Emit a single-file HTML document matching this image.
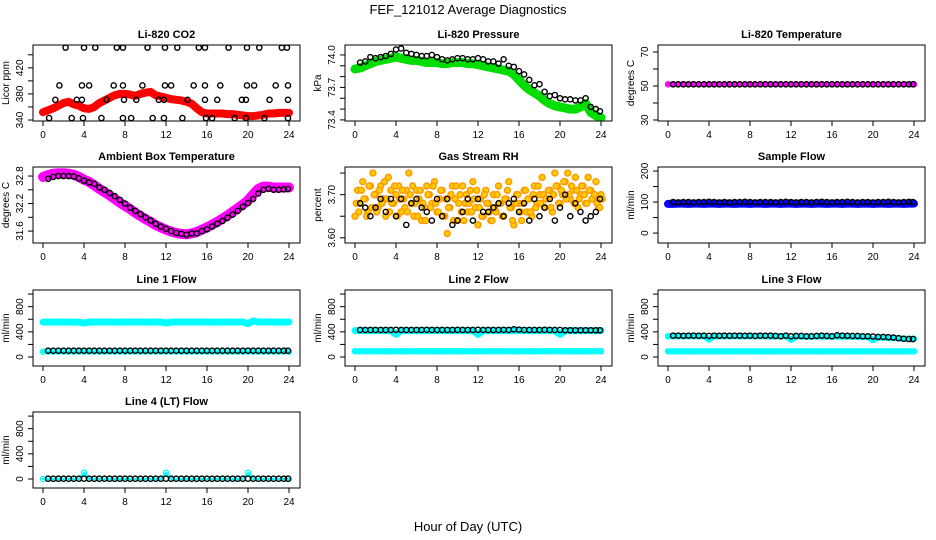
<!DOCTYPE html>
<html><head><meta charset="utf-8"><style>
html,body{margin:0;padding:0;background:#fff;}
svg{display:block;font-family:"Liberation Sans",sans-serif;}
</style></head><body>
<svg id="chart" width="936" height="540" viewBox="0 0 936 540">
<text x="468" y="14" text-anchor="middle" font-size="13">FEF_121012  Average Diagnostics</text>
<text x="468" y="531" text-anchor="middle" font-size="13">Hour of Day (UTC)</text>
</svg>
<script>
// ---------- data ----------
const bandHours=[0,0.5,1,1.5,2,2.5,3,3.5,4,4.5,5,5.5,6,6.5,7,7.5,8,8.5,9,9.5,10,10.5,11,11.5,12,12.5,13,13.5,14,14.5,15,15.5,16,16.5,17,17.5,18,18.5,19,19.5,20,20.5,21,21.5,22,22.5,23,23.5,24];
const blkHours=[0.5,1,1.5,2,2.5,3,3.5,4,4.5,5,5.5,6,6.5,7,7.5,8,8.5,9,9.5,10,10.5,11,11.5,12,12.5,13,13.5,14,14.5,15,15.5,16,16.5,17,17.5,18,18.5,19,19.5,20,20.5,21,21.5,22,22.5,23,23.5,23.9];

const co2Band=[352,355,358,362,366,368,364,362,358,357,360,366,370,374,378,380,380,379,377,380,382,383,378,376,374,372,371,370,368,365,358,352,350,350,350,350,349,349,348,347,346,346,347,348,350,350,351,351,351];
const co2Hours=[2.2,4,5.1,7.2,7.8,10.2,11.9,13.1,15.2,15.8,18.1,19.9,21.1,23.3,23.8,1.6,3.8,4.5,6.9,7.8,9.7,11.9,12.5,14.7,15.8,17.3,19.9,20.6,22.7,23.9,1.2,3.3,3.8,6.2,7.9,9.1,11.3,11.8,14.1,15.8,17.0,19.4,19.8,22.1,23.9,0.6,2.8,3.9,5.7,7.8,8.6,10.7,11.8,13.6,15.9,16.5,18.7,19.8,21.6,23.9];
const co2Vals=[451,451,451,451,451,451,451,451,451,451,451,451,451,451,451,393,393,393,393,393,393,393,393,393,393,393,393,393,393,393,371,371,371,371,371,371,371,371,371,371,371,371,371,371,371,343,343,343,343,343,343,343,343,343,343,343,343,343,343,343];

const presBand=[73.87,73.88,73.9,73.92,73.94,73.95,73.96,73.97,73.98,73.97,73.96,73.95,73.95,73.94,73.93,73.93,73.93,73.92,73.92,73.93,73.93,73.93,73.92,73.92,73.91,73.9,73.89,73.88,73.87,73.86,73.85,73.82,73.77,73.72,73.68,73.65,73.62,73.58,73.55,73.53,73.52,73.51,73.5,73.5,73.52,73.55,73.47,73.44,73.42];
const presBlk=[73.93,73.94,73.98,73.97,73.98,73.99,74.01,74.05,74.06,74.02,74.01,74.0,73.99,73.99,74.0,73.98,73.96,73.95,73.96,73.97,73.97,73.96,73.96,73.97,73.96,73.94,73.94,73.92,73.96,73.9,73.89,73.85,73.82,73.77,73.72,73.73,73.66,73.62,73.63,73.6,73.59,73.59,73.58,73.58,73.6,73.52,73.5,73.48];

const tempBand=[51,51,51,51,51,51,51,51,51,51,51,51,51,51,51,51,51,51,51,51,51,51,51,51,51,51,51,51,51,51,51,51,51,51,51,51,51,51,51,51,51,51,51,51,51,51,51,51,51];
const tempBlk=[51,51,51,51,51,51,51,51,51,51,51,51,51,51,51,51,51,51,51,51,51,51,51,51,51,51,51,51,51,51,51,51,51,51,51,51,51,51,51,51,51,51,51,51,51,51,51,51];

const ambBand=[32.78,32.82,32.85,32.86,32.86,32.85,32.83,32.78,32.72,32.67,32.6,32.52,32.45,32.38,32.3,32.22,32.15,32.08,32.0,31.93,31.86,31.8,31.73,31.68,31.63,31.59,31.56,31.54,31.53,31.55,31.58,31.63,31.68,31.74,31.8,31.87,31.94,32.02,32.1,32.18,32.27,32.4,32.52,32.57,32.57,32.55,32.55,32.55,32.55];
const ambBlk=[32.74,32.78,32.8,32.8,32.8,32.79,32.75,32.7,32.66,32.63,32.55,32.5,32.43,32.36,32.28,32.2,32.11,32.04,31.97,31.9,31.83,31.76,31.7,31.65,31.6,31.56,31.54,31.52,31.55,31.55,31.6,31.64,31.7,31.76,31.82,31.89,31.96,32.04,32.13,32.21,32.3,32.42,32.5,32.52,32.5,32.5,32.51,32.52];

const rhO=[3.65,3.71,3.68,3.73,3.69,3.66,3.72,3.75,3.70,3.67,3.72,3.69,3.65,3.74,3.71,3.68,3.70,3.72,3.66,3.69,3.71,3.75,3.68,3.65,3.71,3.69,3.64,3.67,3.72,3.70,3.68,3.73,3.66,3.69,3.71,3.65,3.61,3.67,3.72,3.69,3.64,3.70,3.72,3.68,3.66,3.71,3.73,3.67,3.63,3.69,3.65,3.71,3.68,3.64,3.70,3.66,3.72,3.68,3.65,3.69,3.73,3.67,3.63,3.70,3.68,3.64,3.71,3.66,3.69,3.65,3.72,3.68,3.70,3.74,3.67,3.69,3.71,3.66,3.75,3.72,3.68,3.70,3.73,3.75,3.69,3.71,3.74,3.67,3.70,3.72,3.68,3.74,3.71,3.69,3.73,3.67,3.70];
const rhO2=[3.68,3.66,3.71,3.69,3.65,3.72,3.67,3.70,3.66,3.71,3.68,3.73,3.69,3.66,3.68,3.72,3.65,3.69,3.71,3.67,3.66,3.70,3.72,3.68,3.65,3.71,3.68,3.64,3.70,3.67,3.72,3.68,3.66,3.71,3.65,3.69,3.67,3.70,3.64,3.72,3.68,3.66,3.64,3.70,3.68,3.66,3.69,3.71,3.67,3.65,3.70,3.68,3.66,3.64,3.67,3.70,3.68,3.65,3.69,3.71,3.67,3.64,3.68,3.70,3.66,3.68,3.71,3.69,3.66,3.70,3.67,3.72,3.68,3.70,3.69,3.71,3.67,3.70,3.72,3.68,3.71,3.73,3.69,3.70,3.72,3.68,3.71,3.69,3.72,3.70,3.68,3.71,3.69,3.70,3.68,3.67,3.69];
const rhBlk=[3.68,3.67,3.65,3.67,3.69,3.66,3.69,3.65,3.69,3.63,3.68,3.69,3.67,3.66,3.64,3.69,3.65,3.69,3.63,3.64,3.66,3.69,3.64,3.69,3.66,3.66,3.67,3.68,3.65,3.68,3.69,3.66,3.68,3.64,3.69,3.65,3.67,3.69,3.64,3.67,3.70,3.65,3.68,3.66,3.64,3.65,3.66,3.69];

const sfBand=[94,94,95,95,94,95,95,94,95,95,94,95,95,94,95,95,94,95,95,94,95,95,94,95,95,94,95,95,94,95,95,94,95,95,94,95,95,94,95,95,94,95,95,94,95,95,94,95,95];
const sfBlk=[100,99,100,100,99,100,100,101,100,99,100,99,100,100,101,100,99,100,100,100,99,100,101,100,99,100,100,99,100,101,100,99,100,100,101,100,99,100,100,99,100,100,101,100,99,100,101,100];

const l1High=[555,555,556,556,557,556,555,555,540,555,556,556,557,556,555,556,556,557,556,556,555,556,556,557,540,556,556,556,557,556,556,557,556,555,556,557,556,555,556,556,530,575,556,556,557,556,555,556,556];
const l1Low=[85,86,85,86,85,85,86,85,86,85,86,85,85,86,85,86,85,86,85,85,86,85,86,85,86,85,86,85,85,86,85,86,85,86,85,85,86,85,86,85,86,85,86,85,85,86,85,86,85];
const l1Blk=[100,100,100,100,100,100,100,100,100,100,100,100,100,100,100,100,100,100,100,100,100,100,100,100,100,100,100,100,100,100,100,100,100,100,100,100,100,100,100,100,100,100,100,100,100,100,100,100];

const l2High=[420,420,421,420,420,421,420,420,360,420,421,420,420,421,420,420,421,420,420,421,420,420,421,420,360,420,421,420,420,421,420,420,421,420,420,421,420,420,421,420,360,420,421,420,420,421,420,420,421];
const l2Low=[92,92,92,92,92,92,92,92,92,92,92,92,92,92,92,92,92,92,92,92,92,92,92,92,92,92,92,92,92,92,92,92,92,92,92,92,92,92,92,92,92,92,92,92,92,92,92,92,92];
const l2Blk=[430,430,430,430,430,430,430,432,430,430,430,430,430,432,430,430,430,430,430,432,430,430,430,432,430,430,430,430,432,430,440,435,430,430,430,430,432,430,430,430,425,425,425,425,425,425,425,425];

const l3High=[330,330,330,331,330,330,330,330,280,330,331,330,330,330,330,331,330,330,330,330,325,330,331,330,275,325,325,325,324,325,325,324,325,325,324,325,322,320,318,316,270,310,305,300,300,295,290,290,290];
const l3Low=[90,90,90,90,90,90,90,90,90,90,90,90,90,90,90,90,90,90,90,90,90,90,90,90,90,90,90,90,90,90,90,90,90,90,90,90,90,90,90,90,90,90,90,90,90,90,90,90,90];
const l3Blk=[340,340,338,340,340,338,340,335,340,338,340,338,340,340,338,340,335,340,338,340,335,330,340,330,335,335,330,330,335,340,335,330,345,340,338,335,335,330,330,325,320,320,315,310,300,290,285,285];

const l4Band=[0,0,0,0,0,0,0,0,100,0,0,0,0,0,0,0,0,0,0,0,0,0,0,0,100,0,0,0,0,0,0,0,0,0,0,0,0,0,0,0,100,0,0,0,0,0,0,0,0];
const l4Blk=[5,5,5,5,5,5,5,5,5,5,5,5,5,5,5,5,5,5,5,5,5,5,5,5,5,5,5,5,5,5,5,5,5,5,5,5,5,5,5,5,5,5,5,5,5,5,5,5];

const xTicks=[0,4,8,12,16,20,24];

// ---------- layout ----------
const NS='http://www.w3.org/2000/svg';
const svg=document.getElementById('chart');
const colL=[33,345,658], rowT=[45,167,290,412], PW=267, PH=76;
function mk(tag,attrs,parent){const e=document.createElementNS(NS,tag);for(const k in attrs)e.setAttribute(k,attrs[k]);(parent||svg).appendChild(e);return e;}

function makePanel(c,r,title,ylab,lo,hi,ticks,labels,key){
  const L=colL[c],T=rowT[r];
  const g=mk('g',{});
  
  
  const xs=h=>L+10+h*246/24;
  const ys=v=>T+PH-(v-lo)/(hi-lo)*PH;
  const t=mk('text',{x:L+PW/2,y:T-7,'text-anchor':'middle','font-size':11,'font-weight':'bold'},g);
  t.textContent=title;
  
  
  const xa=mk('g',{},g);
  
  
  mk('line',{x1:xs(0),x2:xs(24),y1:T+PH,y2:T+PH,stroke:'#000'},xa);
  xTicks.forEach(v=>{
    mk('line',{x1:xs(v),x2:xs(v),y1:T+PH,y2:T+PH+5,stroke:'#000'},xa);
    const tl=mk('text',{x:xs(v),y:T+PH+17,'text-anchor':'middle','font-size':10},xa);
    tl.textContent=v;
    
    
  });
  const ya=mk('g',{},g);
  
  
  mk('line',{x1:L,x2:L,y1:ys(ticks[0]),y2:ys(ticks[ticks.length-1]),stroke:'#000'},ya);
  ticks.forEach(v=>mk('line',{x1:L-5,x2:L,y1:ys(v),y2:ys(v),stroke:'#000'},ya));
  labels.forEach(v=>{
    const y=ys(v);
    const tl=mk('text',{x:L-10,y:y,'text-anchor':'middle','font-size':10,transform:`rotate(-90 ${L-10} ${y})`},ya);
    tl.textContent=v;
    
    
  });
  const yl=mk('text',{x:L-24,y:T+PH/2,'text-anchor':'middle','font-size':10,transform:`rotate(-90 ${L-24} ${T+PH/2})`},g);
  yl.textContent=ylab;
  
  
  const cp=mk('clipPath',{id:'cp'+key},g);
  mk('rect',{x:L,y:T,width:PW,height:PH},cp);
  const pg=mk('g',{'clip-path':`url(#cp${key})`},g);
  const box=mk('rect',{x:L,y:T,width:PW,height:PH,fill:'none',stroke:'#000'},g);
  
  
  return {xs,ys,pg};
}
function band(p,hours,vals,color,w,name){
  const s=mk('g',{},p.pg);
  
  
  const pts=hours.map((h,i)=>p.xs(h)+','+p.ys(vals[i])).join(' ');
  mk('polyline',{points:pts,fill:'none',stroke:color,'stroke-width':w,'stroke-linejoin':'round','stroke-linecap':'round'},s);
  hours.forEach((h,i)=>mk('circle',{cx:p.xs(h),cy:p.ys(vals[i]),r:2.6,fill:'none',stroke:color,'stroke-width':1.3},s));
}
function pts(p,hours,vals,color,name,fill,r){
  const s=mk('g',{},p.pg);
  
  
  hours.forEach((h,i)=>mk('circle',{cx:p.xs(h),cy:p.ys(vals[i]),r:r||2.6,fill:fill||'none',stroke:color,'stroke-width':1.4},s));
}
const q=n=>n.map((_,i)=>i*0.25);

let p;
p=makePanel(0,0,'Li-820 CO2','Licor ppm',338.5,455,[340,360,380,400,420,440],[340,380,420],'co2');
band(p,bandHours,co2Band,'#ff0000',8,'co2-series');
pts(p,co2Hours,co2Vals,'#000','co2-avg-points');

p=makePanel(1,0,'Li-820 Pressure','kPa',73.39,74.092,[73.4,73.5,73.6,73.7,73.8,73.9,74.0],['73.4','73.7','74.0'],'pressure');
band(p,bandHours,presBand,'#00dd00',9,'pressure-series');
pts(p,blkHours,presBlk,'#000','pressure-avg-points');

p=makePanel(2,0,'Li-820 Temperature','degrees C',29.4,74.1,[30,40,50,60,70],[30,50,70],'temperature');
band(p,bandHours,tempBand,'#ff00ff',4,'temperature-series');
pts(p,blkHours,tempBlk,'#000','temperature-avg-points');

p=makePanel(0,1,'Ambient Box Temperature','degrees C',31.34,32.997,[31.6,31.9,32.2,32.5,32.8],['31.6','32.2','32.8'],'ambient');
band(p,bandHours,ambBand,'#ff00ff',10,'ambient-series');
pts(p,blkHours,ambBlk,'#000','ambient-avg-points');

p=makePanel(1,1,'Gas Stream RH','percent',3.588,3.764,[3.60,3.65,3.70,3.75],['3.60','3.70'],'rh');
pts(p,q(rhO),rhO,'#ff9900','rh-series','#ffcc00',3);
pts(p,q(rhO2).map(h=>h+0.12),rhO2,'#ff9900','rh-series-2','#ffcc00',3);
pts(p,blkHours,rhBlk,'#000','rh-avg-points');

p=makePanel(2,1,'Sample Flow','ml/min',-32,213,[0,50,100,150,200],[0,100,200],'sampleflow');
band(p,bandHours,sfBand,'#0000ff',8,'sampleflow-series');
pts(p,blkHours,sfBlk,'#000','sampleflow-avg-points');

const fT=[0,200,400,600,800,1000], fL=[0,400,800];
p=makePanel(0,2,'Line 1 Flow','ml/min',-143,1065,fT,fL,'line1');
band(p,bandHours,l1High,'#00ffff',7,'line1-high-series');
band(p,bandHours,l1Low,'#00ffff',3,'line1-low-series');
pts(p,blkHours,l1Blk,'#000','line1-avg-points');

p=makePanel(1,2,'Line 2 Flow','ml/min',-143,1065,fT,fL,'line2');
band(p,bandHours,l2High,'#00ffff',7,'line2-high-series');
band(p,bandHours,l2Low,'#00ffff',6,'line2-low-series');
pts(p,blkHours,l2Blk,'#000','line2-avg-points');

p=makePanel(2,2,'Line 3 Flow','ml/min',-143,1065,fT,fL,'line3');
band(p,bandHours,l3High,'#00ffff',6,'line3-high-series');
band(p,bandHours,l3Low,'#00ffff',6,'line3-low-series');
pts(p,blkHours,l3Blk,'#000','line3-avg-points');

p=makePanel(0,3,'Line 4 (LT) Flow','ml/min',-143,1065,fT,fL,'line4');
band(p,bandHours,l4Band,'#00ffff',2,'line4-series');
pts(p,blkHours,l4Blk,'#000','line4-avg-points');
</script>
</body></html>
